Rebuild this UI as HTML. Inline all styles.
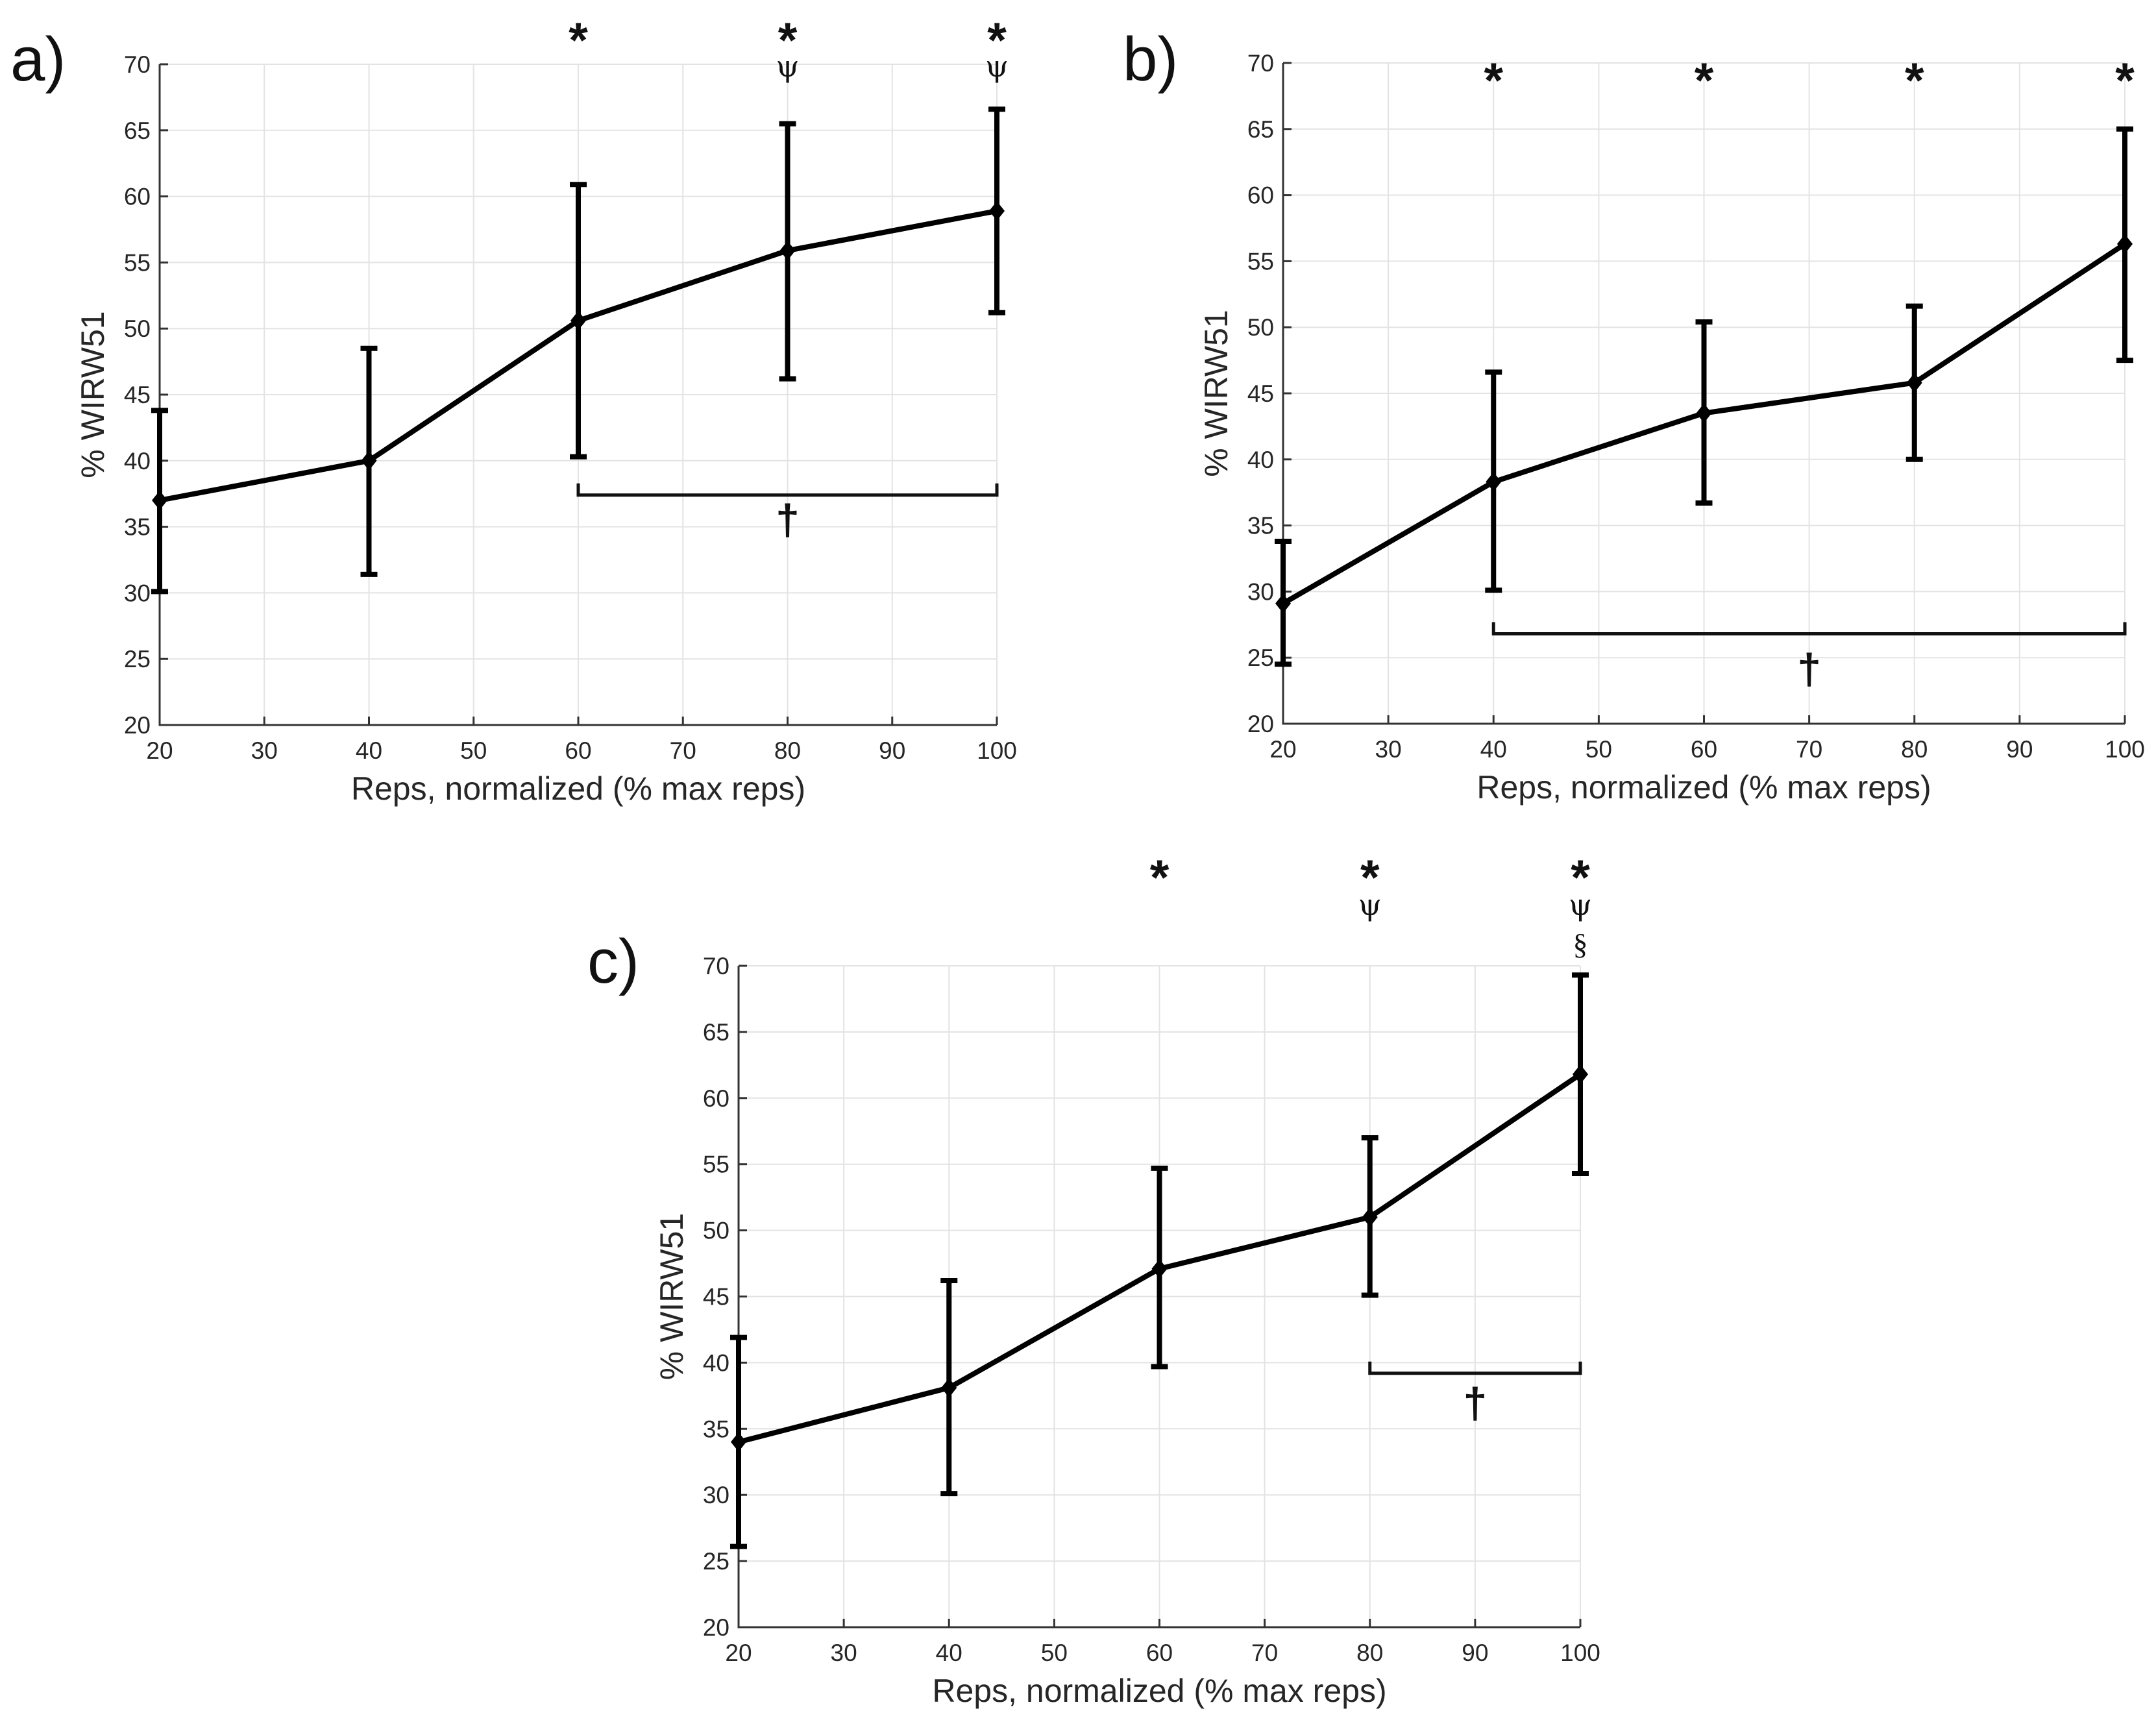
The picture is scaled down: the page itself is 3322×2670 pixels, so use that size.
<!DOCTYPE html>
<html><head><meta charset="utf-8"><style>
html,body{margin:0;padding:0;background:#fff;}
svg{display:block;font-family:"Liberation Sans",sans-serif;}
</style></head><body>
<svg id="fig" width="3322" height="2670" viewBox="0 0 3322 2670" xmlns="http://www.w3.org/2000/svg"></svg>
<script>
const xCategories=[20,40,60,80,100];
const xTicks=[20,30,40,50,60,70,80,90,100];
const yTicks=[20,25,30,35,40,45,50,55,60,65,70];
const meanA=[37,40,50.6,55.9,58.9];
const lowA=[30.1,31.4,40.3,46.2,51.2];
const highA=[43.8,48.5,60.9,65.5,66.6];
const meanB=[29.1,38.3,43.5,45.8,56.3];
const lowB=[24.5,30.1,36.7,40,47.5];
const highB=[33.8,46.6,50.4,51.6,65];
const meanC=[34,38.1,47.1,51,61.8];
const lowC=[26.1,30.1,39.7,45.1,54.3];
const highC=[41.9,46.2,54.7,57,69.3];
const bracketA=[60,100,37.4];
const bracketB=[40,100,26.8];
const bracketC=[80,100,39.2];
const daggerA=[80,35.6];
const daggerB=[70,24.2];
const daggerC=[90,37.0];
const starsA=[60,80,100];const psiA=[80,100];const sectA=[];
const starsB=[40,60,80,100];const psiB=[];const sectB=[];
const starsC=[60,80,100];const psiC=[80,100];const sectC=[100];

const NS='http://www.w3.org/2000/svg';
const svg=document.getElementById('fig');
function mk(tag,attrs,parent,text){const e=document.createElementNS(NS,tag);for(const k in attrs)e.setAttribute(k,attrs[k]);if(text!==undefined)e.textContent=text;(parent||svg).appendChild(e);return e;}

function panel(id,L,R,T,B,mean,low,high,bracket,dagger,stars,psi,sect,letter,lx,ly,starY,psiY,sectY){
  const g=mk('g',{});
  
  
  const sx=v=>L+(v-20)/80*(R-L);
  const sy=v=>B-(v-20)/50*(B-T);
  xTicks.forEach(t=>{const l=mk('line',{x1:sx(t),x2:sx(t),y1:T,y2:B,stroke:'#e3e3e3','stroke-width':2},g);
    });
  yTicks.forEach(t=>{const l=mk('line',{x1:L,x2:R,y1:sy(t),y2:sy(t),stroke:'#e3e3e3','stroke-width':2},g);
    });
  const ax=mk('path',{d:`M${L},${T}V${B}H${R}`,fill:'none',stroke:'#333','stroke-width':3},g);
  
  xTicks.forEach(t=>{mk('line',{x1:sx(t),x2:sx(t),y1:B,y2:B-13,stroke:'#333','stroke-width':3},g);
    const tx=mk('text',{x:sx(t),y:B+52,'font-size':37,'text-anchor':'middle',fill:'#262626'},g,String(t));
    });
  yTicks.forEach(t=>{mk('line',{x1:L,x2:L+13,y1:sy(t),y2:sy(t),stroke:'#333','stroke-width':3},g);
    const tx=mk('text',{x:L-14,y:sy(t)+13,'font-size':37,'text-anchor':'end',fill:'#262626'},g,String(t));
    });
  const xt=mk('text',{x:(L+R)/2,y:B+115,'font-size':50,'text-anchor':'middle',fill:'#262626'},g,'Reps, normalized (% max reps)');
  
  const cy=(T+B)/2;
  const yt=mk('text',{x:L-86,y:cy,'font-size':50,'text-anchor':'middle',fill:'#262626',transform:`rotate(-90 ${L-86} ${cy})`},g,'% WIRW51');
  
  const pl=mk('text',{x:lx,y:ly,'font-size':96,fill:'#111'},g,letter+')');
  
  xCategories.forEach((c,i)=>{const x=sx(c);
    const eb=mk('path',{d:`M${x},${sy(low[i])}V${sy(high[i])}M${x-13},${sy(low[i])}H${x+13}M${x-13},${sy(high[i])}H${x+13}`,stroke:'#000','stroke-width':8,fill:'none'},g);
    });
  const line=mk('polyline',{points:xCategories.map((c,i)=>sx(c)+','+sy(mean[i])).join(' '),fill:'none',stroke:'#000','stroke-width':8,'stroke-linejoin':'round'},g);
  
  xCategories.forEach((c,i)=>{const x=sx(c),y=sy(mean[i]);
    const m=mk('path',{d:`M${x},${y-15}L${x+12},${y}L${x},${y+15}L${x-12},${y}Z`,fill:'#000'},g);
    });
  const by=sy(bracket[2]);
  const br=mk('path',{d:`M${sx(bracket[0])},${by-18}V${by}H${sx(bracket[1])}V${by-18}`,fill:'none',stroke:'#111','stroke-width':5},g);
  
  const dg=mk('text',{x:sx(dagger[0]),y:sy(dagger[1])+24,'font-size':66,'font-weight':'bold','text-anchor':'middle',fill:'#111'},g,'†');
  
  stars.forEach(s=>{const t=mk('text',{x:sx(s),y:starY,'font-size':76,'font-weight':'bold','text-anchor':'middle',fill:'#111'},g,'*');
    });
  psi.forEach(s=>{const t=mk('text',{x:sx(s),y:psiY,'font-size':46,'text-anchor':'middle',fill:'#111','font-family':'"DejaVu Serif",serif'},g,'ψ');
    });
  sect.forEach(s=>{const t=mk('text',{x:sx(s),y:sectY,'font-size':46,'text-anchor':'middle',fill:'#111','font-family':'"Liberation Serif",serif'},g,'§');
    });
}
panel('a',246,1536,99,1117,meanA,lowA,highA,bracketA,daggerA,starsA,psiA,sectA,'a',16,124,88,118,0);
panel('b',1977,3274,97,1115,meanB,lowB,highB,bracketB,daggerB,starsB,psiB,sectB,'b',1730,124,150,0,0);
panel('c',1138,2435,1488,2507,meanC,lowC,highC,bracketC,daggerC,starsC,psiC,sectC,'c',905,1514,1378,1410,1470);
</script>
</body></html>
